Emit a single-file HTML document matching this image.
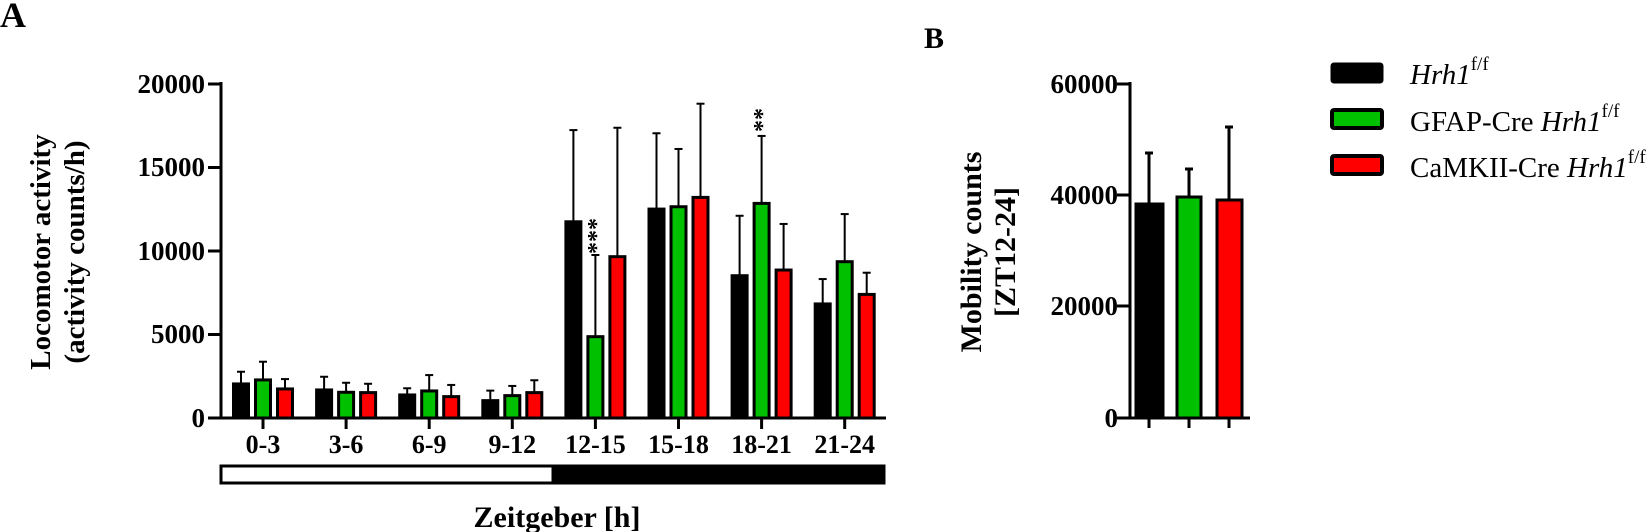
<!DOCTYPE html>
<html><head><meta charset="utf-8"><style>
html,body{margin:0;padding:0;background:#fff;}
svg{display:block;}
text{font-family:"Liberation Serif",serif;}
</style></head><body>
<svg width="1647" height="532" viewBox="0 0 1647 532" xmlns="http://www.w3.org/2000/svg">
<text x="0" y="27" font-size="36" font-weight="bold">A</text>
<text x="924" y="48" font-size="30" font-weight="bold">B</text>

<!-- Panel A axes -->
<g stroke="#000" stroke-width="3" fill="none">
<line x1="221" y1="82" x2="221" y2="419.5"/>
<line x1="208" y1="418" x2="886" y2="418"/>
<line x1="208" y1="84" x2="221" y2="84"/>
<line x1="208" y1="167.5" x2="221" y2="167.5"/>
<line x1="208" y1="251" x2="221" y2="251"/>
<line x1="208" y1="334.5" x2="221" y2="334.5"/>
</g>
<g font-size="27" font-weight="bold" text-anchor="end">
<text x="205" y="93">20000</text>
<text x="205" y="176">15000</text>
<text x="205" y="260">10000</text>
<text x="205" y="343">5000</text>
<text x="205" y="427">0</text>
</g>
<g font-size="29" font-weight="bold" text-anchor="middle">
<text transform="translate(50,252) rotate(-90)">Locomotor activity</text>
<text transform="translate(84,252) rotate(-90)">(activity counts/h)</text>
</g>

<g id="bars" stroke="#000" stroke-width="3"></g>

<g font-size="26" font-weight="bold" text-anchor="middle" id="xl"></g>

<rect x="221" y="466" width="663" height="17" fill="#000" stroke="#000" stroke-width="3"/>
<rect x="221" y="466" width="332" height="17" fill="#fff" stroke="#000" stroke-width="3"/>
<text x="557" y="527" font-size="30" font-weight="bold" text-anchor="middle">Zeitgeber [h]</text>

<g font-size="24" font-weight="bold" text-anchor="middle">
<text transform="translate(604,236) rotate(-90)">***</text>
<text transform="translate(770,120) rotate(-90)">**</text>
</g>

<!-- Panel B -->
<g stroke="#000" stroke-width="3" fill="none">
<line x1="1130" y1="82" x2="1130" y2="419.5"/>
<line x1="1117" y1="418" x2="1250" y2="418"/>
<line x1="1117" y1="84" x2="1130" y2="84"/>
<line x1="1117" y1="195" x2="1130" y2="195"/>
<line x1="1117" y1="306" x2="1130" y2="306"/>
<line x1="1149" y1="418" x2="1149" y2="428"/>
<line x1="1189" y1="418" x2="1189" y2="428"/>
<line x1="1229" y1="418" x2="1229" y2="428"/>
<line x1="1149" y1="204" x2="1149" y2="153"/><line x1="1145" y1="153" x2="1153" y2="153"/>
<line x1="1189" y1="197" x2="1189" y2="169"/><line x1="1185" y1="169" x2="1193" y2="169"/>
<line x1="1229" y1="200" x2="1229" y2="127"/><line x1="1225" y1="127" x2="1233" y2="127"/>
</g>
<rect x="1136" y="204" width="27" height="214" fill="#000" stroke="#000" stroke-width="3"/>
<rect x="1177" y="197" width="24" height="221" fill="#00c000" stroke="#000" stroke-width="3"/>
<rect x="1217" y="200" width="25" height="218" fill="#ff0000" stroke="#000" stroke-width="3"/>
<g font-size="27" font-weight="bold" text-anchor="end">
<text x="1118" y="93">60000</text>
<text x="1118" y="204">40000</text>
<text x="1118" y="315">20000</text>
<text x="1118" y="427">0</text>
</g>
<g font-size="30" font-weight="bold" text-anchor="middle">
<text transform="translate(981,252) rotate(-90)">Mobility counts</text>
<text transform="translate(1015,252) rotate(-90)">[ZT12-24]</text>
</g>

<!-- Legend -->
<rect x="1332" y="64" width="50" height="18" rx="2" fill="#000" stroke="#000" stroke-width="3"/>
<rect x="1332" y="110" width="50" height="18" rx="2" fill="#00c000" stroke="#000" stroke-width="4"/>
<rect x="1332" y="156" width="50" height="18" rx="2" fill="#ff0000" stroke="#000" stroke-width="4"/>
<g font-size="29">
<text x="1410" y="84"><tspan font-style="italic">Hrh1</tspan><tspan font-size="19" dy="-14">f/f</tspan></text>
<text x="1410" y="131">GFAP-Cre <tspan font-style="italic">Hrh1</tspan><tspan font-size="19" dy="-14">f/f</tspan></text>
<text x="1410" y="177">CaMKII-Cre <tspan font-style="italic">Hrh1</tspan><tspan font-size="19" dy="-14">f/f</tspan></text>
</g>

<script>
(function(){
var ns="http://www.w3.org/2000/svg";
var data=[[2040,2770,2280,3370,1740,2330],[1680,2470,1540,2110,1520,2050],[1380,1780,1620,2570,1280,1980],[1040,1640,1340,1920,1520,2260],[11750,17240,4870,9760,9660,17380],[12510,17050,12650,16110,13210,18820],[8520,12110,12850,16890,8860,11620],[6830,8320,9360,12210,7400,8700]];
var labels=["0-3","3-6","6-9","9-12","12-15","15-18","18-21","21-24"];
var cols=["#000","#00c000","#ff0000"];
var g=document.getElementById("bars"),xl=document.getElementById("xl");
function Y(v){return 418-v*334/20000;}
function el(t,a,p){var e=document.createElementNS(ns,t);for(var k in a)e.setAttribute(k,a[k]);p.appendChild(e);return e;}
for(var i=0;i<8;i++){
 var c=263+i*83.1;
 el("line",{x1:c,y1:418,x2:c,y2:429,stroke:"#000","stroke-width":3},g);
 var t=el("text",{x:c,y:453},xl);t.textContent=labels[i];
 for(var j=0;j<3;j++){
  var cx=c-22+j*22, v=data[i][2*j], e=data[i][2*j+1];
  el("line",{x1:cx,y1:Y(v),x2:cx,y2:Y(e),stroke:"#000","stroke-width":2},g);
  el("line",{x1:cx-4,y1:Y(e),x2:cx+4,y2:Y(e),stroke:"#000","stroke-width":2},g);
  el("rect",{x:cx-7.5,y:Y(v),width:15,height:418-Y(v),fill:cols[j],stroke:"#000","stroke-width":3},g);
 }
}
})();
</script>
</svg>
</body></html>
